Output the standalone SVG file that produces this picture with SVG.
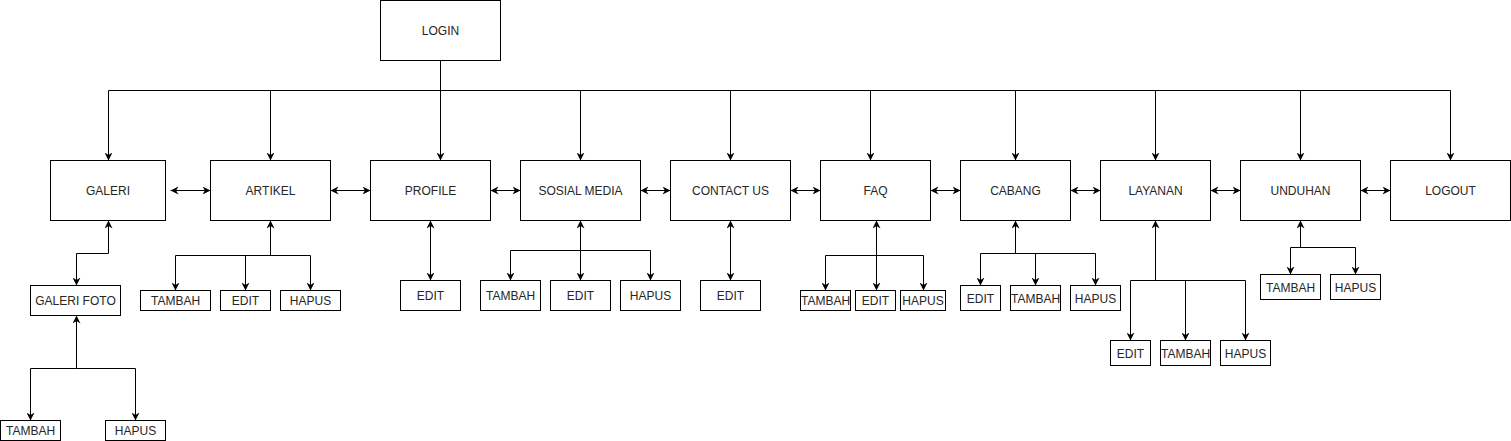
<svg xmlns="http://www.w3.org/2000/svg" width="1511" height="441" viewBox="0 0 1511 441">
<style>
rect{fill:#fff;stroke:#000;stroke-width:1}
text{font-family:"Liberation Sans",Arial,sans-serif;font-size:12px;fill:#262626;text-anchor:middle}
.e{fill:none;stroke:#000;stroke-width:1}
.b{marker-start:url(#a);marker-end:url(#a)}
.s{marker-start:url(#a)}
.t{marker-end:url(#a)}
</style>
<defs>
<marker id="a" viewBox="0 0 10 10" refX="10" refY="5" markerWidth="8" markerHeight="8" markerUnits="userSpaceOnUse" orient="auto-start-reverse"><path d="M0,0 L10,5 L0,10 L3,5 z" fill="#000"/></marker>
</defs>
<rect x="0" y="0" width="1511" height="441" style="fill:#fff;stroke:none"/>
<g transform="translate(0.5,0.5)">
<g id="connectors">
<path class="e" d="M440,60 V90 M108,90 H1450"/>
<path class="e t" d="M108,90 V160"/>
<path class="e t" d="M270,90 V160"/>
<path class="e t" d="M440,90 V160"/>
<path class="e t" d="M580,90 V160"/>
<path class="e t" d="M730,90 V160"/>
<path class="e t" d="M870,90 V160"/>
<path class="e t" d="M1015,90 V160"/>
<path class="e t" d="M1155,90 V160"/>
<path class="e t" d="M1300,90 V160"/>
<path class="e t" d="M1450,90 V160"/>
<path class="e b" d="M170,190 H210"/>
<path class="e b" d="M330,190 H370"/>
<path class="e b" d="M490,190 H520"/>
<path class="e b" d="M640,190 H670"/>
<path class="e b" d="M790,190 H820"/>
<path class="e b" d="M930,190 H960"/>
<path class="e b" d="M1070,190 H1100"/>
<path class="e b" d="M1210,190 H1240"/>
<path class="e b" d="M1360,190 H1390"/>
<path class="e b" d="M108,220 V253 H76 V285"/>
<path class="e s" d="M76,315 V368"/>
<path class="e t" d="M76,368 H30 V420"/>
<path class="e t" d="M76,368 H135 V420"/>
<path class="e s" d="M270,220 V255"/>
<path class="e" d="M175,255 H310"/>
<path class="e t" d="M175,255 V290"/>
<path class="e t" d="M245,255 V290"/>
<path class="e t" d="M310,255 V290"/>
<path class="e b" d="M430,220 V280"/>
<path class="e b" d="M580,220 V280"/>
<path class="e b" d="M510,280 V250 H650 V280"/>
<path class="e b" d="M730,220 V280"/>
<path class="e b" d="M876,220 V290"/>
<path class="e b" d="M825,290 V255 H923 V290"/>
<path class="e s" d="M1015,220 V253"/>
<path class="e b" d="M980,285 V253 H1095 V285"/>
<path class="e t" d="M1035,253 V285"/>
<path class="e s" d="M1155,220 V280"/>
<path class="e b" d="M1130,340 V280 H1245 V340"/>
<path class="e t" d="M1185,280 V340"/>
<path class="e s" d="M1300,220 V247"/>
<path class="e b" d="M1290,274 V247 H1355 V274"/>
</g>
<g id="login"><rect x="380" y="0" width="120" height="60"/><text x="440" y="34">LOGIN</text></g>
<g id="galeri"><rect x="50" y="160" width="115" height="60"/><text x="107.5" y="194">GALERI</text></g>
<g id="artikel"><rect x="210" y="160" width="120" height="60"/><text x="270" y="194">ARTIKEL</text></g>
<g id="profile"><rect x="370" y="160" width="120" height="60"/><text x="430" y="194">PROFILE</text></g>
<g id="sosial-media"><rect x="520" y="160" width="120" height="60"/><text x="580" y="194">SOSIAL MEDIA</text></g>
<g id="contact-us"><rect x="670" y="160" width="120" height="60"/><text x="730" y="194">CONTACT US</text></g>
<g id="faq"><rect x="820" y="160" width="110" height="60"/><text x="875" y="194">FAQ</text></g>
<g id="cabang"><rect x="960" y="160" width="110" height="60"/><text x="1015" y="194">CABANG</text></g>
<g id="layanan"><rect x="1100" y="160" width="110" height="60"/><text x="1155" y="194">LAYANAN</text></g>
<g id="unduhan"><rect x="1240" y="160" width="120" height="60"/><text x="1300" y="194">UNDUHAN</text></g>
<g id="logout"><rect x="1390" y="160" width="120" height="60"/><text x="1450" y="194">LOGOUT</text></g>
<g id="galeri-foto"><rect x="30" y="285" width="90" height="30"/><text x="75" y="304">GALERI FOTO</text></g>
<g id="gf-tambah"><rect x="0" y="420" width="60" height="20"/><text x="30" y="434">TAMBAH</text></g>
<g id="gf-hapus"><rect x="105" y="420" width="60" height="20"/><text x="135" y="434">HAPUS</text></g>
<g id="artikel-tambah"><rect x="140" y="290" width="70" height="20"/><text x="175" y="304">TAMBAH</text></g>
<g id="artikel-edit"><rect x="220" y="290" width="50" height="20"/><text x="245" y="304">EDIT</text></g>
<g id="artikel-hapus"><rect x="280" y="290" width="60" height="20"/><text x="310" y="304">HAPUS</text></g>
<g id="profile-edit"><rect x="400" y="280" width="60" height="30"/><text x="430" y="299">EDIT</text></g>
<g id="sosial-tambah"><rect x="480" y="280" width="60" height="30"/><text x="510" y="299">TAMBAH</text></g>
<g id="sosial-edit"><rect x="550" y="280" width="60" height="30"/><text x="580" y="299">EDIT</text></g>
<g id="sosial-hapus"><rect x="620" y="280" width="60" height="30"/><text x="650" y="299">HAPUS</text></g>
<g id="contact-edit"><rect x="700" y="280" width="60" height="30"/><text x="730" y="299">EDIT</text></g>
<g id="faq-tambah"><rect x="800" y="290" width="50" height="20"/><text x="825" y="304">TAMBAH</text></g>
<g id="faq-edit"><rect x="855" y="290" width="40" height="20"/><text x="875" y="304">EDIT</text></g>
<g id="faq-hapus"><rect x="900" y="290" width="45" height="20"/><text x="922.5" y="304">HAPUS</text></g>
<g id="cabang-edit"><rect x="960" y="285" width="40" height="25"/><text x="980" y="302">EDIT</text></g>
<g id="cabang-tambah"><rect x="1010" y="285" width="50" height="25"/><text x="1035" y="302">TAMBAH</text></g>
<g id="cabang-hapus"><rect x="1070" y="285" width="50" height="25"/><text x="1095" y="302">HAPUS</text></g>
<g id="layanan-edit"><rect x="1110" y="340" width="40" height="25"/><text x="1130" y="357">EDIT</text></g>
<g id="layanan-tambah"><rect x="1160" y="340" width="50" height="25"/><text x="1185" y="357">TAMBAH</text></g>
<g id="layanan-hapus"><rect x="1220" y="340" width="50" height="25"/><text x="1245" y="357">HAPUS</text></g>
<g id="unduhan-tambah"><rect x="1260" y="274" width="60" height="25"/><text x="1290" y="291">TAMBAH</text></g>
<g id="unduhan-hapus"><rect x="1330" y="274" width="50" height="25"/><text x="1355" y="291">HAPUS</text></g>
</g>
</svg>
